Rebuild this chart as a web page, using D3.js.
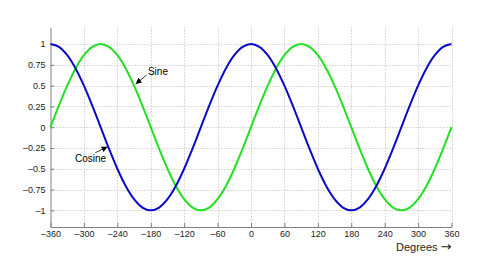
<!DOCTYPE html>
<html><head><meta charset="utf-8">
<script src="https://cdn.jsdelivr.net/npm/d3@7"></script>
<style>
html,body{margin:0;padding:0;background:#fff;}
svg{display:block;font-family:"Liberation Sans",Arial,sans-serif;}
</style></head>
<body><svg id="c" width="484" height="267"></svg>
<script>
const degrees = [-360,-345,-330,-315,-300,-285,-270,-255,-240,-225,-210,-195,-180,-165,-150,-135,-120,-105,-90,-75,-60,-45,-30,-15,0,15,30,45,60,75,90,105,120,135,150,165,180,195,210,225,240,255,270,285,300,315,330,345,360];
const sineValues = [0,0.259,0.5,0.707,0.866,0.966,1,0.966,0.866,0.707,0.5,0.259,0,-0.259,-0.5,-0.707,-0.866,-0.966,-1,-0.966,-0.866,-0.707,-0.5,-0.259,0,0.259,0.5,0.707,0.866,0.966,1,0.966,0.866,0.707,0.5,0.259,0,-0.259,-0.5,-0.707,-0.866,-0.966,-1,-0.966,-0.866,-0.707,-0.5,-0.259,0];
const cosineValues = [1,0.966,0.866,0.707,0.5,0.259,0,-0.259,-0.5,-0.707,-0.866,-0.966,-1,-0.966,-0.866,-0.707,-0.5,-0.259,0,0.259,0.5,0.707,0.866,0.966,1,0.966,0.866,0.707,0.5,0.259,0,-0.259,-0.5,-0.707,-0.866,-0.966,-1,-0.966,-0.866,-0.707,-0.5,-0.259,0,0.259,0.5,0.707,0.866,0.966,1];
const xTicks = [-360,-300,-240,-180,-120,-60,0,60,120,180,240,300,360];
const yTicks = [-1,-0.75,-0.5,-0.25,0,0.25,0.5,0.75,1];
const xLabel = "Degrees";
const xLabelArrow = "\u2192";
const annotations = [
  {text:"Sine", tx:-185, ty:0.628, anchor:"start", from:[-187.5,0.628], to:[-207,0.52]},
  {text:"Cosine", tx:-288, ty:-0.415, anchor:"middle", from:[-279.6,-0.307], to:[-257.5,-0.235]}
];

const svg = d3.select("#c");
const x = d3.scaleLinear().domain([-360,360]).range([50.5,451.5]);
const y = d3.scaleLinear().domain([-1.2,1.2]).range([227,27.4]);
const fmt = v => (v<0 ? "\u2013" + String(-v) : String(v));

// grid
const g = svg.append("g");
g.selectAll(".vg").data(xTicks.slice(1)).join("line")
  .attr("x1",d=>Math.round(x(d))+0.5).attr("x2",d=>Math.round(x(d))+0.5)
  .attr("y1",y(1.2)).attr("y2",y(-1.2))
  .attr("stroke","#b8b8b8").attr("stroke-width",1).attr("stroke-dasharray","1,2");
g.selectAll(".hg").data(yTicks).join("line")
  .attr("x1",x(-360)).attr("x2",x(360))
  .attr("y1",d=>Math.round(y(d))+0.5).attr("y2",d=>Math.round(y(d))+0.5)
  .attr("stroke","#b8b8b8").attr("stroke-width",1).attr("stroke-dasharray","1,2");

// axes
const xAxis = d3.axisBottom(x).tickValues(xTicks).tickSizeInner(-4).tickSizeOuter(0).tickPadding(4).tickFormat(fmt);
const yAxis = d3.axisLeft(y).tickValues(yTicks).tickSizeInner(-4).tickSizeOuter(0).tickPadding(5).tickFormat(fmt);
const ax = svg.append("g").attr("transform","translate(0,"+y(-1.2)+")").call(xAxis);
const ay = svg.append("g").attr("transform","translate("+x(-360)+",0)").call(yAxis);
[ax,ay].forEach(a=>{
  a.select(".domain").attr("stroke","#808080");
  a.selectAll(".tick line").attr("stroke","#808080");
  a.selectAll("text").attr("font-family","Liberation Sans, Arial, sans-serif").attr("font-size",9).attr("fill","#222");
});

// lines
const line = d3.line().x((d,i)=>x(degrees[i])).y(d=>y(d)).curve(d3.curveCatmullRom);
svg.append("path").datum(sineValues).attr("d",line).attr("fill","none").attr("stroke","#22e022").attr("stroke-width",2);
svg.append("path").datum(cosineValues).attr("d",line).attr("fill","none").attr("stroke","#0a0ac8").attr("stroke-width",2);

// x label
const xl = svg.append("text").attr("x",x(360)).attr("y",251).attr("text-anchor","end")
  .attr("font-size",11).attr("fill","#222");
xl.append("tspan").text(xLabel + " ");
xl.append("tspan").attr("font-family","DejaVu Sans").attr("font-size",13).text(xLabelArrow);

// annotations
const defs = svg.append("defs");
defs.append("marker").attr("id","ah").attr("viewBox","0 0 10 10").attr("refX",10).attr("refY",5)
  .attr("markerWidth",6).attr("markerHeight",6).attr("orient","auto").attr("markerUnits","userSpaceOnUse")
  .append("path").attr("d","M0,0L10,5L0,10z").attr("fill","#000");
annotations.forEach(a=>{
  svg.append("line").attr("x1",x(a.from[0])).attr("y1",y(a.from[1]))
    .attr("x2",x(a.to[0])).attr("y2",y(a.to[1]))
    .attr("stroke","#000").attr("stroke-width",0.8).attr("marker-end","url(#ah)");
  svg.append("text").attr("x",x(a.tx)).attr("y",y(a.ty)).attr("text-anchor",a.anchor)
    .attr("font-size",10).attr("fill","#000").text(a.text);
});
</script></body></html>
